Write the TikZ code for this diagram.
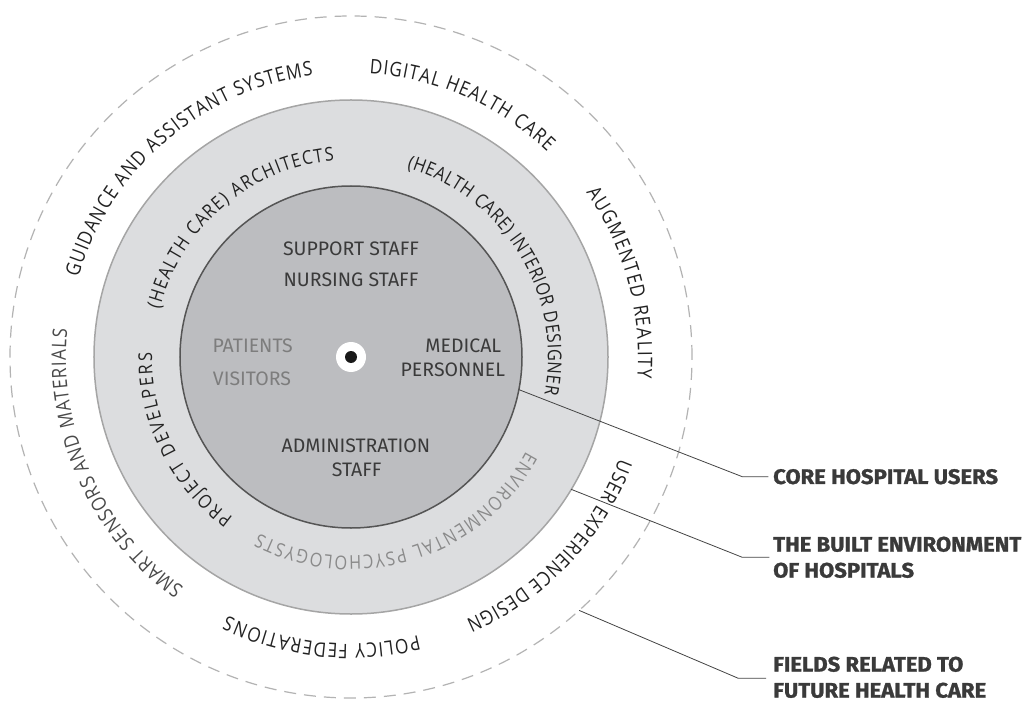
\documentclass[tikz,border=0pt]{standalone}
\usepackage{fontspec}
\setmainfont{Fira Sans}
\newfontfamily\ringfont{Open Sans}[FakeStretch=0.86]
\newfontfamily\corefont{Fira Sans}
\newfontfamily\labelfont{Fira Sans}[FakeStretch=1.05, BoldFeatures={FakeBold=1.2}]
\usetikzlibrary{decorations.text}
\definecolor{dashgrey}{HTML}{B3B3B3}
\definecolor{midfill}{HTML}{DCDDDF}
\definecolor{midline}{HTML}{A5A5A5}
\definecolor{corefill}{HTML}{BCBDC0}
\definecolor{coreline}{HTML}{555555}
\definecolor{darktext}{HTML}{222222}
\definecolor{softtext}{HTML}{4A4A4A}
\definecolor{paletext}{HTML}{8A8A8A}
\definecolor{coretext}{HTML}{3A3A3A}
\definecolor{guesttext}{HTML}{7D7D7D}
\definecolor{labeltext}{HTML}{3A3A3A}
\definecolor{leadercol}{HTML}{444444}
\def\ringsize{20}
\newcommand\arctext[5]{%
  \path[decorate, decoration={text along path, text color=#1,
    text align={fit to path, right indent=1.5pt},
    text={|\ringfont\fontsize{\ringsize}{22}\selectfont|#5}}]
    (#3:#2) arc[start angle=#3, end angle=#4, radius=#2];}
\begin{document}
\begin{tikzpicture}[x=1pt,y=1pt,
  ring/.style={circle, inner sep=0pt, outer sep=0pt, minimum size=#1},
  coretxt/.style={font=\corefont\fontsize{19.5}{21}\selectfont, text=coretext, inner sep=0pt, anchor=base},
  guesttxt/.style={font=\corefont\fontsize{19.5}{21}\selectfont, text=guesttext, inner sep=0pt, anchor=base},
  lbl/.style={font=\labelfont\bfseries\fontsize{21}{26}\selectfont, text=labeltext, inner sep=0pt, anchor=west, align=left},
  leader/.style={draw=leadercol, line width=0.8pt}]
\useasboundingbox (-351,-344) rectangle (681,357);
\fill[white] (-351,-344) rectangle (681,357);

% circles
\node[ring=682pt, draw=dashgrey, line width=1.2pt, dash pattern=on 12pt off 8pt] (outer) at (0,0) {};
\node[ring=514pt, draw=midline, fill=midfill, line width=1.5pt] (mid) at (0,0) {};
\node[ring=342pt, draw=coreline, fill=corefill, line width=1.5pt] (core) at (0,0) {};
\node[ring=30pt, fill=white] (eye) at (0,0) {};
\node[ring=12pt, fill=black!90] (dot) at (0,0) {};

% core texts
\node[coretxt] (support) at (0,101) {SUPPORT STAFF};
\node[coretxt] (nursing) at (0,70.3) {NURSING STAFF};
\node[guesttxt] (patients) at (-98.3,4.7) {PATIENTS};
\node[guesttxt] (visitors) at (-99,-28) {VISITORS};
\node[coretxt] (medical) at (112.3,4.7) {MEDICAL};
\node[coretxt] (personnel) at (101.8,-19) {PERSONNEL};
\node[coretxt] (admin) at (5,-95.3) {ADMINISTRATION};
\node[coretxt] (staff) at (5.7,-119.7) {STAFF};

% middle ring texts
\def\ringsize{19}
\arctext{darktext}{197}{166}{94.5}{(HEALTH CARE) ARCHITECTS}
\arctext{darktext}{197}{73.5}{-11.2}{(HEALTH CARE) INTERIOR DESIGNER}
\arctext{paletext}{199}{-28.4}{-117.9}{ENVIRONMENTAL PSYCHOLOGYSTS}
\arctext{darktext}{199}{233.7}{178.4}{PROJECT DEVELPERS}

% outer ring texts
\def\ringsize{20}
\arctext{darktext}{284}{163.7}{97.4}{GUIDANCE AND ASSISTANT SYSTEMS}
\arctext{darktext}{284}{86.3}{46.0}{DIGITAL HEALTH CARE}
\arctext{darktext}{287}{35}{-4.5}{AUGMENTED REALITY}
\arctext{darktext}{287}{-20.8}{-66.7}{USER EXPERIENCE DESIGN}
\arctext{darktext}{287}{-76.4}{-115.8}{POLICY FEDERATIONS}
\arctext{softtext}{285}{234.1}{174.2}{SMART SENSORS AND MATERIALS}

% labels and leaders
\node[lbl] (l1) at (422,-119.7) {CORE HOSPITAL USERS};
\node[lbl] (l2) at (422,-200.3) {THE BUILT ENVIRONMENT\\OF HOSPITALS};
\node[lbl] (l3) at (422,-320.3) {FIELDS RELATED TO\\FUTURE HEALTH CARE};
\coordinate (k1) at (391.3,-119.7);
\coordinate (k2) at (391.3,-200.3);
\coordinate (k3) at (387.3,-321.3);
\draw[leader] (core.-11.4) -- (k1) -- ([xshift=-4.7pt]l1.west);
\draw[leader] (mid.-31.5) -- (k2) -- ([xshift=-3.7pt]l2.west);
\draw[leader] (outer.-48.8) -- (k3) -- ([xshift=-7pt]k3 -| l3.west);
\end{tikzpicture}
\end{document}
